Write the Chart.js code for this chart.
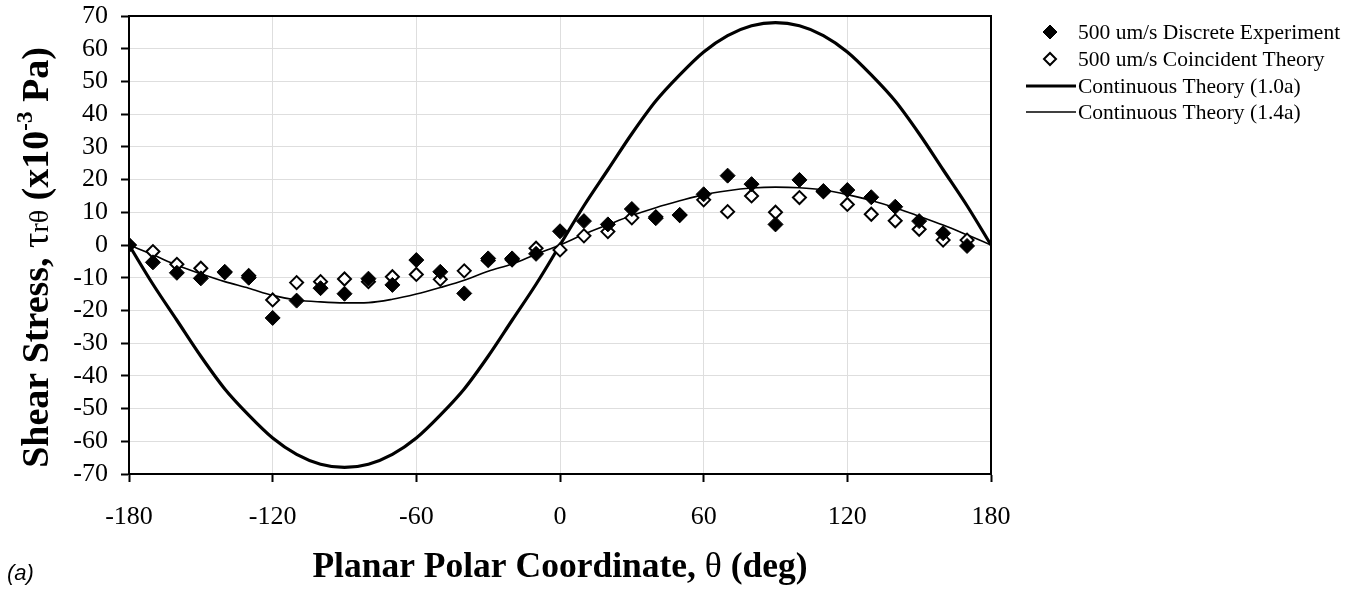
<!DOCTYPE html>
<html><head><meta charset="utf-8">
<script src="https://cdn.jsdelivr.net/npm/chart.js@4.4.0/dist/chart.umd.min.js"></script>
<style>html,body{margin:0;padding:0;background:#fff;}#wrap{width:1360px;height:591px;}</style>
</head><body><div id="wrap"><canvas id="c" width="1360" height="591"></canvas></div>
<script>
// ---- data ----
const expAngles = [-180,-170,-160,-150,-140,-130,-120,-110,-100,-90,-80,-70,-60,-50,-40,-30,-20,-10,0,10,20,30,40,50,60,70,80,90,100,110,120,130,140,150,160,170];
const discreteExperiment = [0,-5.3,-8.5,-10.2,-8.2,-10,-22.3,-17,-13.2,-14.9,-10.3,-12.2,-4.6,-8.2,-14.8,-4.1,-4.1,-2.7,4.2,7.3,6.3,11,8.2,9.2,15.5,21.2,18.6,6.3,19.9,16.5,16.8,14.6,11.7,7.3,3.6,-0.3];
const coincidentTheory   = [0,-2,-5.9,-7.1,-8.4,-9.4,-16.8,-11.5,-11.2,-10.4,-11.2,-9.7,-9,-10.5,-7.9,-4.7,-4.5,-1,-1.5,2.8,4.1,8.3,8.6,9.1,13.8,10.2,15,10,14.5,16.3,12.4,9.4,7.4,4.8,1.5,1.5];
const curveAngles = [-180,-170,-160,-150,-140,-130,-120,-110,-100,-90,-80,-70,-60,-50,-40,-30,-20,-10,0,10,20,30,40,50,60,70,80,90,100,110,120,130,140,150,160,170,180];
const continuous10a = [0,-12,-23,-34,-44,-52,-59,-64,-67,-68,-67,-64,-59,-52,-44,-34,-23,-12,0,12,23,34,44,52,59,64,67,68,67,64,59,52,44,34,23,12,0];
const continuous14a = [0,-3,-6.2,-8.8,-11.2,-13.2,-15.4,-16.8,-17.4,-17.7,-17.6,-16.6,-15,-13,-10.8,-8,-5.8,-2.8,0,3.3,6.2,9,11.4,13.5,15.4,16.6,17.4,17.7,17.5,16.8,15.4,13.6,11.4,8.8,6.1,3.1,0];
const seriesNames = ['500 um/s Discrete Experiment','500 um/s Coincident Theory','Continuous Theory (1.0a)','Continuous Theory (1.4a)'];
const xTicks = {min:-180, max:180, step:60};
const yTicks = {min:-70, max:70, step:10};
const xTitleParts = ['Planar Polar Coordinate, ', 'θ', ' (deg)'];
const yTitleParts = ['Shear Stress, ', 'τ', 'rθ', ' (x10', '-3', ' Pa)'];
const panelLabel = '(a)';

function pts(xs, ys){ return ys.map((v,i)=>({x:xs[i], y:v})); }

const SERIF = '"Liberation Serif","Times New Roman",serif';

function drawRich(ctx, parts, fonts, offs){
  let total = 0;
  const ws = parts.map((p,i)=>{ ctx.font = fonts[i]; const w = ctx.measureText(p).width; total += w; return w; });
  return {total, ws, draw(x0, y0){ let x = x0; parts.forEach((p,i)=>{ ctx.font = fonts[i]; ctx.fillText(p, x, y0 + (offs[i]||0)); x += ws[i]; }); }};
}

const decor = {
  id:'decor',
  beforeDatasetsDraw(chart){
    const {ctx, chartArea:a} = chart;
    ctx.save();
    ctx.strokeStyle = '#000'; ctx.lineWidth = 2;
    ctx.beginPath();
    ctx.moveTo(a.left, a.top); ctx.lineTo(a.right, a.top); ctx.lineTo(a.right, a.bottom);
    ctx.stroke();
    ctx.restore();
  },
  afterDraw(chart){
    const {ctx, chartArea:a} = chart;
    ctx.save();
    ctx.fillStyle = '#000';
    ctx.textBaseline = 'alphabetic';
    ctx.textAlign = 'left';
    // x title
    const xf = 'bold 35.5px ' + SERIF, xfr = '35.5px ' + SERIF;
    const xr = drawRich(ctx, xTitleParts, [xf, xfr, xf], [0,0,0]);
    xr.draw((a.left + a.right)/2 - xr.total/2, 577);
    // y title
    const yf = 'bold 38px ' + SERIF;
    const yr = drawRich(ctx, yTitleParts,
      [yf, '38px ' + SERIF, '28px ' + SERIF, yf, 'bold 23px ' + SERIF, yf],
      [0,0,0,0,-16,0]);
    ctx.translate(48, 257.5);
    ctx.rotate(-Math.PI/2);
    yr.draw(-yr.total/2, 0);
    ctx.restore();
    // panel label
    ctx.save();
    ctx.fillStyle = '#000';
    ctx.font = 'italic 22px "Liberation Sans", Arial, sans-serif';
    ctx.textBaseline = 'alphabetic';
    ctx.fillText(panelLabel, 7, 580);
    ctx.restore();
    // legend
    ctx.save();
    ctx.font = '21.5px ' + SERIF;
    ctx.fillStyle = '#000';
    ctx.textBaseline = 'middle';
    const rows = [32, 59, 86, 112];
    const tx = 1078;
    const ds = chart.data.datasets;
    const diamond = (cx, cy, r, fill, lw) => {
      ctx.beginPath();
      ctx.moveTo(cx - r, cy); ctx.lineTo(cx, cy - r); ctx.lineTo(cx + r, cy); ctx.lineTo(cx, cy + r); ctx.closePath();
      ctx.fillStyle = fill; ctx.fill();
      ctx.lineWidth = lw; ctx.strokeStyle = '#000'; ctx.stroke();
    };
    diamond(1050, rows[0], 7, '#000', 1);
    diamond(1050, rows[1], 6, '#fff', 2);
    ctx.strokeStyle = '#000';
    ctx.lineWidth = ds[2].borderWidth; ctx.beginPath(); ctx.moveTo(1026, rows[2]); ctx.lineTo(1076, rows[2]); ctx.stroke();
    ctx.lineWidth = ds[3].borderWidth; ctx.beginPath(); ctx.moveTo(1026, rows[3]); ctx.lineTo(1076, rows[3]); ctx.stroke();
    ctx.fillStyle = '#000';
    seriesNames.forEach((n,i)=>ctx.fillText(n, tx, rows[i] + 1));
    ctx.restore();
  }
};

new Chart(document.getElementById('c'), {
  type:'scatter',
  data:{ datasets:[
    {label:seriesNames[0], data:pts(expAngles, discreteExperiment), pointStyle:'rectRot', pointRadius:7.5, pointHoverRadius:7.5,
     backgroundColor:'#000', borderColor:'#000', borderWidth:1, showLine:false, order:0},
    {label:seriesNames[1], data:pts(expAngles, coincidentTheory), pointStyle:'rectRot', pointRadius:6.5, pointHoverRadius:6.5,
     backgroundColor:'#fff', borderColor:'#000', borderWidth:2, showLine:false, order:1},
    {label:seriesNames[2], data:pts(curveAngles, continuous10a), showLine:true, pointRadius:0, borderColor:'#000', borderWidth:3.2,
     cubicInterpolationMode:'monotone', fill:false, order:2},
    {label:seriesNames[3], data:pts(curveAngles, continuous14a), showLine:true, pointRadius:0, borderColor:'#000', borderWidth:1.6,
     cubicInterpolationMode:'monotone', fill:false, order:3}
  ]},
  options:{
    responsive:false, animation:false, devicePixelRatio:1,
    layout:{padding:{left:0, top:16, right:369, bottom:0}},
    plugins:{legend:{display:false}, tooltip:{enabled:false}},
    scales:{
      x:{type:'linear', min:xTicks.min, max:xTicks.max,
         ticks:{stepSize:xTicks.step, autoSkip:false, color:'#000', font:{family:SERIF, size:26}, padding:20, maxRotation:0},
         grid:{color:'#dedede', lineWidth:1, tickColor:'#000', tickWidth:2, tickLength:8},
         border:{display:true, color:'#000', width:2},
         afterFit(s){ s.height = 117; }},
      y:{type:'linear', min:yTicks.min, max:yTicks.max,
         ticks:{stepSize:yTicks.step, autoSkip:false, color:'#000', font:{family:SERIF, size:26, lineHeight:1}, padding:13},
         grid:{color:'#dedede', lineWidth:1, tickColor:'#000', tickWidth:2, tickLength:8},
         border:{display:true, color:'#000', width:2},
         afterFit(s){ s.width = 129; s.paddingTop = 0; s.paddingBottom = 0; }}
    }
  },
  plugins:[decor]
});
</script></body></html>
